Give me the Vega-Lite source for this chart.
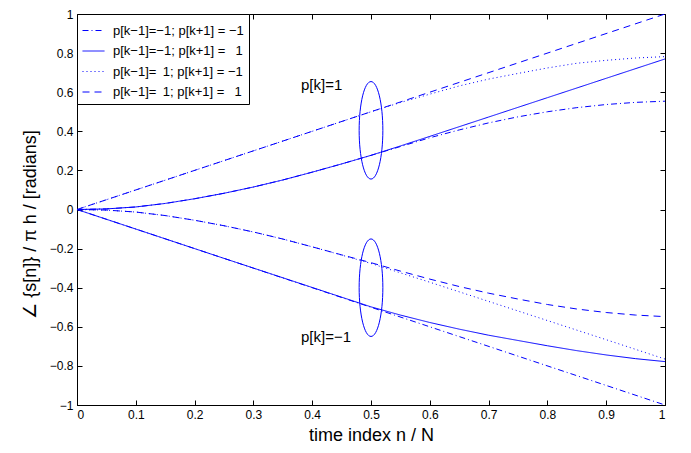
{
  "$schema": "https://vega.github.io/schema/vega-lite/v6.json",
  "width": 588,
  "height": 391,
  "autosize": "none",
  "padding": {"left": 77, "top": 14, "right": 26, "bottom": 48},
  "background": "white",
  "config": {
    "view": {"stroke": "black", "strokeWidth": 1},
    "font": "Liberation Sans",
    "axis": {
      "grid": false,
      "domainColor": "black",
      "domainWidth": 1,
      "tickColor": "black",
      "tickSize": -5,
      "tickWidth": 1,
      "labelFont": "Liberation Sans",
      "labelFontSize": 12,
      "labelColor": "black",
      "titleFont": "Liberation Sans",
      "titleFontSize": 18,
      "titleFontWeight": "normal",
      "titleColor": "black"
    },
    "legend": {
      "orient": "top-left",
      "offset": 0,
      "strokeColor": "black",
      "fillColor": "white",
      "padding": 5,
      "symbolType": "stroke",
      "symbolSize": 484,
      "symbolStrokeWidth": 1,
      "symbolStrokeColor": "#0000ff",
      "labelFont": "Liberation Sans",
      "labelFontSize": 13,
      "labelColor": "black",
      "labelOffset": 8,
      "rowPadding": 1.5
    }
  },
  "datasets": {
    "curves": [
      {"n": 0, "v": 0, "s": "p[k−1]=\u20021; p[k+1] = \u20021", "g": "u4"},
      {"n": 0.5, "v": 0.5, "s": "p[k−1]=\u20021; p[k+1] = \u20021", "g": "u4"},
      {"n": 1, "v": 1, "s": "p[k−1]=\u20021; p[k+1] = \u20021", "g": "u4"},

      {"n": 0, "v": 0, "s": "p[k−1]=\u20021; p[k+1] = −1", "g": "u3"},
      {"n": 0.25, "v": 0.25, "s": "p[k−1]=\u20021; p[k+1] = −1", "g": "u3"},
      {"n": 0.5, "v": 0.5, "s": "p[k−1]=\u20021; p[k+1] = −1", "g": "u3"},
      {"n": 0.55, "v": 0.547, "s": "p[k−1]=\u20021; p[k+1] = −1", "g": "u3"},
      {"n": 0.6, "v": 0.59, "s": "p[k−1]=\u20021; p[k+1] = −1", "g": "u3"},
      {"n": 0.65, "v": 0.632, "s": "p[k−1]=\u20021; p[k+1] = −1", "g": "u3"},
      {"n": 0.7, "v": 0.667, "s": "p[k−1]=\u20021; p[k+1] = −1", "g": "u3"},
      {"n": 0.75, "v": 0.696, "s": "p[k−1]=\u20021; p[k+1] = −1", "g": "u3"},
      {"n": 0.8, "v": 0.724, "s": "p[k−1]=\u20021; p[k+1] = −1", "g": "u3"},
      {"n": 0.85, "v": 0.748, "s": "p[k−1]=\u20021; p[k+1] = −1", "g": "u3"},
      {"n": 0.9, "v": 0.763, "s": "p[k−1]=\u20021; p[k+1] = −1", "g": "u3"},
      {"n": 0.95, "v": 0.775, "s": "p[k−1]=\u20021; p[k+1] = −1", "g": "u3"},
      {"n": 1, "v": 0.782, "s": "p[k−1]=\u20021; p[k+1] = −1", "g": "u3"},

      {"n": 0, "v": 0, "s": "p[k−1]=−1; p[k+1] = \u20021", "g": "u2"},
      {"n": 0.05, "v": 0.003, "s": "p[k−1]=−1; p[k+1] = \u20021", "g": "u2"},
      {"n": 0.1, "v": 0.013, "s": "p[k−1]=−1; p[k+1] = \u20021", "g": "u2"},
      {"n": 0.15, "v": 0.031, "s": "p[k−1]=−1; p[k+1] = \u20021", "g": "u2"},
      {"n": 0.2, "v": 0.055, "s": "p[k−1]=−1; p[k+1] = \u20021", "g": "u2"},
      {"n": 0.25, "v": 0.083, "s": "p[k−1]=−1; p[k+1] = \u20021", "g": "u2"},
      {"n": 0.3, "v": 0.115, "s": "p[k−1]=−1; p[k+1] = \u20021", "g": "u2"},
      {"n": 0.35, "v": 0.151, "s": "p[k−1]=−1; p[k+1] = \u20021", "g": "u2"},
      {"n": 0.4, "v": 0.191, "s": "p[k−1]=−1; p[k+1] = \u20021", "g": "u2"},
      {"n": 0.45, "v": 0.233, "s": "p[k−1]=−1; p[k+1] = \u20021", "g": "u2"},
      {"n": 0.5, "v": 0.277, "s": "p[k−1]=−1; p[k+1] = \u20021", "g": "u2"},
      {"n": 0.55, "v": 0.325, "s": "p[k−1]=−1; p[k+1] = \u20021", "g": "u2"},
      {"n": 0.6, "v": 0.374, "s": "p[k−1]=−1; p[k+1] = \u20021", "g": "u2"},
      {"n": 0.7, "v": 0.473, "s": "p[k−1]=−1; p[k+1] = \u20021", "g": "u2"},
      {"n": 0.8, "v": 0.572, "s": "p[k−1]=−1; p[k+1] = \u20021", "g": "u2"},
      {"n": 0.9, "v": 0.671, "s": "p[k−1]=−1; p[k+1] = \u20021", "g": "u2"},
      {"n": 1, "v": 0.77, "s": "p[k−1]=−1; p[k+1] = \u20021", "g": "u2"},

      {"n": 0, "v": 0, "s": "p[k−1]=−1; p[k+1] = −1", "g": "u1"},
      {"n": 0.05, "v": 0.003, "s": "p[k−1]=−1; p[k+1] = −1", "g": "u1"},
      {"n": 0.1, "v": 0.013, "s": "p[k−1]=−1; p[k+1] = −1", "g": "u1"},
      {"n": 0.15, "v": 0.031, "s": "p[k−1]=−1; p[k+1] = −1", "g": "u1"},
      {"n": 0.2, "v": 0.055, "s": "p[k−1]=−1; p[k+1] = −1", "g": "u1"},
      {"n": 0.25, "v": 0.083, "s": "p[k−1]=−1; p[k+1] = −1", "g": "u1"},
      {"n": 0.3, "v": 0.115, "s": "p[k−1]=−1; p[k+1] = −1", "g": "u1"},
      {"n": 0.35, "v": 0.151, "s": "p[k−1]=−1; p[k+1] = −1", "g": "u1"},
      {"n": 0.4, "v": 0.191, "s": "p[k−1]=−1; p[k+1] = −1", "g": "u1"},
      {"n": 0.45, "v": 0.233, "s": "p[k−1]=−1; p[k+1] = −1", "g": "u1"},
      {"n": 0.5, "v": 0.277, "s": "p[k−1]=−1; p[k+1] = −1", "g": "u1"},
      {"n": 0.55, "v": 0.322, "s": "p[k−1]=−1; p[k+1] = −1", "g": "u1"},
      {"n": 0.6, "v": 0.367, "s": "p[k−1]=−1; p[k+1] = −1", "g": "u1"},
      {"n": 0.65, "v": 0.407, "s": "p[k−1]=−1; p[k+1] = −1", "g": "u1"},
      {"n": 0.7, "v": 0.443, "s": "p[k−1]=−1; p[k+1] = −1", "g": "u1"},
      {"n": 0.75, "v": 0.474, "s": "p[k−1]=−1; p[k+1] = −1", "g": "u1"},
      {"n": 0.8, "v": 0.5, "s": "p[k−1]=−1; p[k+1] = −1", "g": "u1"},
      {"n": 0.85, "v": 0.521, "s": "p[k−1]=−1; p[k+1] = −1", "g": "u1"},
      {"n": 0.9, "v": 0.537, "s": "p[k−1]=−1; p[k+1] = −1", "g": "u1"},
      {"n": 0.95, "v": 0.548, "s": "p[k−1]=−1; p[k+1] = −1", "g": "u1"},
      {"n": 1, "v": 0.554, "s": "p[k−1]=−1; p[k+1] = −1", "g": "u1"},

      {"n": 0, "v": 0, "s": "p[k−1]=−1; p[k+1] = −1", "g": "d1"},
      {"n": 0.5, "v": -0.5, "s": "p[k−1]=−1; p[k+1] = −1", "g": "d1"},
      {"n": 1, "v": -1, "s": "p[k−1]=−1; p[k+1] = −1", "g": "d1"},

      {"n": 0, "v": 0, "s": "p[k−1]=−1; p[k+1] = \u20021", "g": "d2"},
      {"n": 0.25, "v": -0.25, "s": "p[k−1]=−1; p[k+1] = \u20021", "g": "d2"},
      {"n": 0.5, "v": -0.498, "s": "p[k−1]=−1; p[k+1] = \u20021", "g": "d2"},
      {"n": 0.55, "v": -0.54, "s": "p[k−1]=−1; p[k+1] = \u20021", "g": "d2"},
      {"n": 0.6, "v": -0.578, "s": "p[k−1]=−1; p[k+1] = \u20021", "g": "d2"},
      {"n": 0.65, "v": -0.612, "s": "p[k−1]=−1; p[k+1] = \u20021", "g": "d2"},
      {"n": 0.7, "v": -0.643, "s": "p[k−1]=−1; p[k+1] = \u20021", "g": "d2"},
      {"n": 0.75, "v": -0.67, "s": "p[k−1]=−1; p[k+1] = \u20021", "g": "d2"},
      {"n": 0.8, "v": -0.697, "s": "p[k−1]=−1; p[k+1] = \u20021", "g": "d2"},
      {"n": 0.85, "v": -0.722, "s": "p[k−1]=−1; p[k+1] = \u20021", "g": "d2"},
      {"n": 0.9, "v": -0.744, "s": "p[k−1]=−1; p[k+1] = \u20021", "g": "d2"},
      {"n": 0.95, "v": -0.763, "s": "p[k−1]=−1; p[k+1] = \u20021", "g": "d2"},
      {"n": 1, "v": -0.778, "s": "p[k−1]=−1; p[k+1] = \u20021", "g": "d2"},

      {"n": 0, "v": 0, "s": "p[k−1]=\u20021; p[k+1] = −1", "g": "d3"},
      {"n": 0.05, "v": -0.003, "s": "p[k−1]=\u20021; p[k+1] = −1", "g": "d3"},
      {"n": 0.1, "v": -0.013, "s": "p[k−1]=\u20021; p[k+1] = −1", "g": "d3"},
      {"n": 0.15, "v": -0.031, "s": "p[k−1]=\u20021; p[k+1] = −1", "g": "d3"},
      {"n": 0.2, "v": -0.055, "s": "p[k−1]=\u20021; p[k+1] = −1", "g": "d3"},
      {"n": 0.25, "v": -0.083, "s": "p[k−1]=\u20021; p[k+1] = −1", "g": "d3"},
      {"n": 0.3, "v": -0.115, "s": "p[k−1]=\u20021; p[k+1] = −1", "g": "d3"},
      {"n": 0.35, "v": -0.151, "s": "p[k−1]=\u20021; p[k+1] = −1", "g": "d3"},
      {"n": 0.4, "v": -0.191, "s": "p[k−1]=\u20021; p[k+1] = −1", "g": "d3"},
      {"n": 0.45, "v": -0.233, "s": "p[k−1]=\u20021; p[k+1] = −1", "g": "d3"},
      {"n": 0.5, "v": -0.276, "s": "p[k−1]=\u20021; p[k+1] = −1", "g": "d3"},
      {"n": 0.55, "v": -0.324, "s": "p[k−1]=\u20021; p[k+1] = −1", "g": "d3"},
      {"n": 0.6, "v": -0.372, "s": "p[k−1]=\u20021; p[k+1] = −1", "g": "d3"},
      {"n": 0.7, "v": -0.47, "s": "p[k−1]=\u20021; p[k+1] = −1", "g": "d3"},
      {"n": 0.8, "v": -0.568, "s": "p[k−1]=\u20021; p[k+1] = −1", "g": "d3"},
      {"n": 0.9, "v": -0.666, "s": "p[k−1]=\u20021; p[k+1] = −1", "g": "d3"},
      {"n": 1, "v": -0.765, "s": "p[k−1]=\u20021; p[k+1] = −1", "g": "d3"},

      {"n": 0, "v": 0, "s": "p[k−1]=\u20021; p[k+1] = \u20021", "g": "d4"},
      {"n": 0.05, "v": -0.003, "s": "p[k−1]=\u20021; p[k+1] = \u20021", "g": "d4"},
      {"n": 0.1, "v": -0.013, "s": "p[k−1]=\u20021; p[k+1] = \u20021", "g": "d4"},
      {"n": 0.15, "v": -0.031, "s": "p[k−1]=\u20021; p[k+1] = \u20021", "g": "d4"},
      {"n": 0.2, "v": -0.055, "s": "p[k−1]=\u20021; p[k+1] = \u20021", "g": "d4"},
      {"n": 0.25, "v": -0.083, "s": "p[k−1]=\u20021; p[k+1] = \u20021", "g": "d4"},
      {"n": 0.3, "v": -0.115, "s": "p[k−1]=\u20021; p[k+1] = \u20021", "g": "d4"},
      {"n": 0.35, "v": -0.151, "s": "p[k−1]=\u20021; p[k+1] = \u20021", "g": "d4"},
      {"n": 0.4, "v": -0.191, "s": "p[k−1]=\u20021; p[k+1] = \u20021", "g": "d4"},
      {"n": 0.45, "v": -0.232, "s": "p[k−1]=\u20021; p[k+1] = \u20021", "g": "d4"},
      {"n": 0.5, "v": -0.272, "s": "p[k−1]=\u20021; p[k+1] = \u20021", "g": "d4"},
      {"n": 0.55, "v": -0.315, "s": "p[k−1]=\u20021; p[k+1] = \u20021", "g": "d4"},
      {"n": 0.6, "v": -0.356, "s": "p[k−1]=\u20021; p[k+1] = \u20021", "g": "d4"},
      {"n": 0.65, "v": -0.394, "s": "p[k−1]=\u20021; p[k+1] = \u20021", "g": "d4"},
      {"n": 0.7, "v": -0.428, "s": "p[k−1]=\u20021; p[k+1] = \u20021", "g": "d4"},
      {"n": 0.75, "v": -0.458, "s": "p[k−1]=\u20021; p[k+1] = \u20021", "g": "d4"},
      {"n": 0.8, "v": -0.486, "s": "p[k−1]=\u20021; p[k+1] = \u20021", "g": "d4"},
      {"n": 0.85, "v": -0.509, "s": "p[k−1]=\u20021; p[k+1] = \u20021", "g": "d4"},
      {"n": 0.9, "v": -0.527, "s": "p[k−1]=\u20021; p[k+1] = \u20021", "g": "d4"},
      {"n": 0.95, "v": -0.54, "s": "p[k−1]=\u20021; p[k+1] = \u20021", "g": "d4"},
      {"n": 1, "v": -0.548, "s": "p[k−1]=\u20021; p[k+1] = \u20021", "g": "d4"}
    ],
    "rings": [
      {"n": 0.5, "v": 0.405},
      {"n": 0.5, "v": -0.4}
    ],
    "notes": [
      {"n": 0.381, "v": 0.61, "t": "p[k]=1"},
      {"n": 0.381, "v": -0.68, "t": "p[k]=−1"}
    ]
  },
  "layer": [
    {
      "data": {"name": "curves"},
      "mark": {"type": "line", "color": "#0000ff", "strokeWidth": 1, "clip": true},
      "encoding": {
        "x": {
          "field": "n", "type": "quantitative",
          "scale": {"domain": [0, 1], "nice": false, "zero": false},
          "axis": {
            "orient": "bottom",
            "values": [0, 0.1, 0.2, 0.3, 0.4, 0.5, 0.6, 0.7, 0.8, 0.9, 1],
            "format": "~g",
            "labelPadding": 9,
            "title": "time index n / N",
            "titlePadding": 6
          }
        },
        "y": {
          "field": "v", "type": "quantitative",
          "scale": {"domain": [-1, 1], "nice": false, "zero": false},
          "axis": {
            "orient": "left",
            "values": [-1, -0.8, -0.6, -0.4, -0.2, 0, 0.2, 0.4, 0.6, 0.8, 1],
            "format": "~g",
            "labelPadding": 9,
            "title": "∠ {s[n]} / π h / [radians]",
            "titlePadding": 10,
            "titleY": 210
          }
        },
        "detail": {"field": "g"},
        "order": {"field": "n", "type": "quantitative"},
        "strokeDash": {
          "field": "s", "type": "nominal",
          "scale": {
            "domain": ["p[k−1]=−1; p[k+1] = −1", "p[k−1]=−1; p[k+1] = \u20021", "p[k−1]=\u20021; p[k+1] = −1", "p[k−1]=\u20021; p[k+1] = \u20021"],
            "range": [[6, 3, 1, 3], [1, 0], [1, 3], [7, 5]]
          },
          "legend": {"title": null}
        }
      }
    },
    {
      "data": {"name": "rings"},
      "mark": {
        "type": "point",
        "shape": "M0,-1 A0.243,1 0 1,1 0,1 A0.243,1 0 1,1 0,-1 Z",
        "size": 9506,
        "filled": false,
        "stroke": "#0000ff",
        "strokeWidth": 1,
        "opacity": 1
      },
      "encoding": {
        "x": {"field": "n", "type": "quantitative", "axis": {"orient": "top", "labels": false, "domain": false, "title": null, "values": [0, 0.1, 0.2, 0.3, 0.4, 0.5, 0.6, 0.7, 0.8, 0.9, 1]}},
        "y": {"field": "v", "type": "quantitative", "axis": {"orient": "right", "labels": false, "domain": false, "title": null, "values": [-1, -0.8, -0.6, -0.4, -0.2, 0, 0.2, 0.4, 0.6, 0.8, 1]}}
      }
    },
    {
      "data": {"name": "notes"},
      "mark": {"type": "text", "align": "left", "baseline": "alphabetic", "font": "Liberation Sans", "fontSize": 15, "color": "black"},
      "encoding": {
        "x": {"field": "n", "type": "quantitative", "axis": null},
        "y": {"field": "v", "type": "quantitative", "axis": null},
        "text": {"field": "t"}
      }
    }
  ],
  "resolve": {"axis": {"x": "independent", "y": "independent"}}
}
